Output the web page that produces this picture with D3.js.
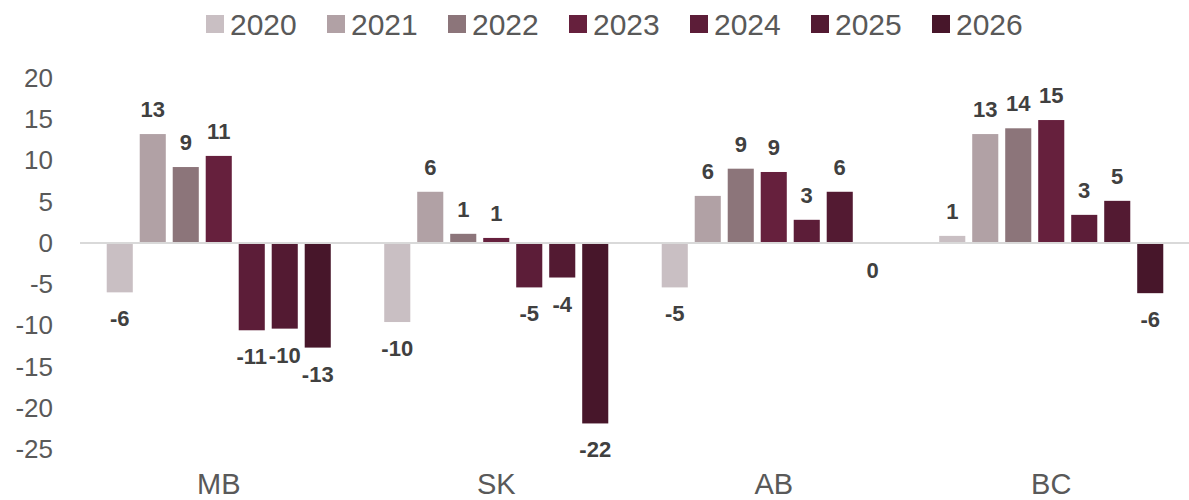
<!DOCTYPE html>
<html>
<head>
<meta charset="utf-8">
<script src="https://cdn.jsdelivr.net/npm/d3@7"></script>
<style>
	body { margin: 0; background: #fff; }
	svg { display: block; font-family: "Liberation Sans", Arial, sans-serif; }
</style>
</head>
<body>
<div id="chart"></div>
<script>
// regions and years
var regions = ["MB", "SK", "AB", "BC"];
var years = ["2020", "2021", "2022", "2023", "2024", "2025", "2026"];
var colors = ["#c9bfc3", "#b1a1a5", "#8c757a", "#66203d", "#5c1d38", "#531a32", "#47162a"];

// values per region, one per year
var valuesMB = [-6.0, 13.2, 9.2, 10.55, -10.6, -10.4, -12.7];
var valuesSK = [-9.6, 6.2, 1.1, 0.6, -5.4, -4.2, -21.9];
var valuesAB = [-5.4, 5.7, 9.0, 8.6, 2.8, 6.2, -0.1];
var valuesBC = [0.85, 13.2, 13.9, 14.9, 3.4, 5.1, -6.1];

var yTicks = [20, 15, 10, 5, 0, -5, -10, -15, -20, -25];

var table = [valuesMB, valuesSK, valuesAB, valuesBC];
var data = [];
regions.forEach(function (r, i) {
	years.forEach(function (yr, j) {
		data.push({ region: r, year: yr, value: table[i][j] });
	});
});

var width = 1189, height = 500;

var svg = d3.select("#chart")
	.append("svg")
	.attr("width", width)
	.attr("height", height);

var x0 = d3.scaleBand()
	.domain(regions)
	.range([80, 1190]);

var x1 = d3.scaleBand()
	.domain(years)
	.range([0, x0.bandwidth()])
	.paddingInner(0.21)
	.paddingOuter(0.81);

var y = d3.scaleLinear()
	.domain([-25, 20])
	.range([449, 78]);

var color = d3.scaleOrdinal()
	.domain(years)
	.range(colors);

// y tick labels
svg.append("g")
	.selectAll("text")
	.data(yTicks)
	.enter()
	.append("text")
	.attr("x", 53)
	.attr("y", function (d) { return y(d) + 9; })
	.attr("text-anchor", "end")
	.attr("font-size", 26)
	.attr("fill", "#595959")
	.text(function (d) { return d; });

// bars
svg.append("g")
	.selectAll("rect")
	.data(data)
	.enter()
	.append("rect")
	.attr("x", function (d) { return x0(d.region) + x1(d.year); })
	.attr("width", x1.bandwidth())
	.attr("y", function (d) { return y(Math.max(0, d.value)); })
	.attr("height", function (d) { return Math.max(1, Math.abs(y(d.value) - y(0))); })
	.attr("fill", function (d) { return color(d.year); });

// zero line
svg.append("line")
	.attr("x1", 80)
	.attr("x2", 1189)
	.attr("y1", y(0))
	.attr("y2", y(0))
	.attr("stroke", "#d9d9d9")
	.attr("stroke-width", 2);

// value labels
svg.append("g")
	.selectAll("text")
	.data(data)
	.enter()
	.append("text")
	.attr("x", function (d) { return x0(d.region) + x1(d.year) + x1.bandwidth() / 2; })
	.attr("y", function (d) {
		return d.value >= 0 ? y(d.value) - 17 : y(d.value) + 34;
	})
	.attr("text-anchor", "middle")
	.attr("font-size", 22)
	.attr("font-weight", "bold")
	.attr("fill", "#404040")
	.text(function (d) { return String(Math.round(d.value)); });

// category labels
svg.append("g")
	.selectAll("text")
	.data(regions)
	.enter()
	.append("text")
	.attr("x", function (d) { return x0(d) + x0.bandwidth() / 2; })
	.attr("y", 494)
	.attr("text-anchor", "middle")
	.attr("font-size", 29)
	.attr("fill", "#595959")
	.text(function (d) { return d; });

// legend
var legend = svg.append("g")
	.selectAll("g")
	.data(years)
	.enter()
	.append("g")
	.attr("transform", function (d, i) { return "translate(" + (206 + i * 121) + ",0)"; });

legend.append("rect")
	.attr("x", 0)
	.attr("y", 15)
	.attr("width", 18)
	.attr("height", 18)
	.attr("fill", function (d) { return color(d); });

legend.append("text")
	.attr("x", 24)
	.attr("y", 35)
	.attr("font-size", 30)
	.attr("fill", "#595959")
	.text(function (d) { return d; });
</script>
</body>
</html>
